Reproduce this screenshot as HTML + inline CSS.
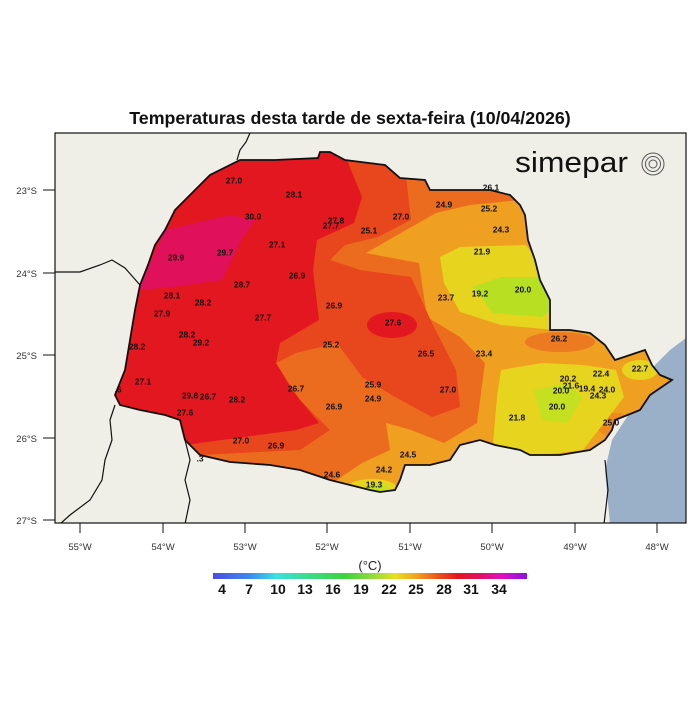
<!DOCTYPE html>
<html><head><meta charset="utf-8"><style>
body{margin:0;background:#fff;}
svg text{font-family:"Liberation Sans",sans-serif;}
</style></head><body>
<svg width="699" height="699" viewBox="0 0 699 699" xmlns="http://www.w3.org/2000/svg">
<defs>
<clipPath id="st"><path id="sp" d="M195,190 L210,175 L240,160 L275,160 L318,158 L320,152 L330,152 L345,160 L385,165 L400,178 L425,180 L430,190 L490,190 L510,195 L520,205 L525,215 L528,240 L535,260 L540,280 L550,300 L550,330 L570,330 L590,333 L605,345 L615,360 L630,355 L645,350 L652,365 L660,375 L672,380 L650,395 L640,410 L615,420 L612,430 L605,440 L590,450 L560,455 L530,455 L520,450 L495,445 L480,440 L460,445 L450,460 L430,465 L405,465 L400,480 L395,490 L380,492 L370,490 L350,485 L330,480 L300,470 L270,465 L230,462 L200,455 L185,440 L180,420 L165,415 L140,410 L120,405 L115,395 L125,370 L130,340 L135,310 L140,285 L148,265 L155,245 L165,230 L175,210 Z"/></clipPath>
<clipPath id="fr"><rect x="55" y="133" width="631" height="390"/></clipPath>
<linearGradient id="cb" x1="0" x2="1">
<stop offset="0" stop-color="#4b4de0"/><stop offset="0.12" stop-color="#3c8cf0"/><stop offset="0.2" stop-color="#3ce0e0"/><stop offset="0.3" stop-color="#3cdc8c"/><stop offset="0.42" stop-color="#3cd23c"/><stop offset="0.52" stop-color="#a0dc3c"/><stop offset="0.58" stop-color="#e6e01e"/><stop offset="0.65" stop-color="#f0a020"/><stop offset="0.72" stop-color="#e8501c"/><stop offset="0.78" stop-color="#e3151e"/><stop offset="0.85" stop-color="#e01060"/><stop offset="0.92" stop-color="#e010c0"/><stop offset="1" stop-color="#8c10e0"/>
</linearGradient>
</defs>
<text x="350" y="124" font-size="17.8" font-weight="bold" text-anchor="middle" fill="#111">Temperaturas desta tarde de sexta-feira (10/04/2026)</text>
<rect x="55" y="133" width="631" height="390" fill="#efefe7"/>
<g clip-path="url(#fr)">
<path d="M686,338 L670,350 L655,365 L650,378 L640,398 L625,420 L612,440 L605,470 L610,524 L686,524 Z" fill="#9ab0c8"/>
<g fill="none" stroke="#111" stroke-width="1.2">
<path d="M54,272 L80,272 L100,265 L112,260 L125,268 L140,285"/>
<path d="M237,160 L240,150 L246,142 L250,133"/>
<path d="M185,440 L190,460 L185,480 L190,500 L185,524"/>
<path d="M115,405 L110,420 L112,440 L105,460 L102,480 L90,500 L70,515 L60,524"/>
<path d="M605,460 L608,490 L604,524"/>
</g>
<g clip-path="url(#st)">
<rect x="100" y="140" width="600" height="380" fill="#efa020"/>
<path d="M100,150 L520,150 L520,200 L470,205 L436,213 L366,253 L419,263 L427,317 L460,337 L485,363 L477,423 L444,443 L411,430 L386,423 L390,450 L362,463 L337,480 L300,500 L100,500 Z" fill="#ec6c1f"/>
<ellipse cx="560" cy="342" rx="35" ry="10" fill="#ec7a20"/>
<ellipse cx="615" cy="425" rx="18" ry="12" fill="#ec8a20"/>
<path d="M100,150 L403,150 L411,220 L378,237 L345,245 L330,260 L360,270 L411,277 L432,323 L456,370 L460,407 L432,417 L395,397 L362,377 L337,343 L296,353 L276,363 L300,400 L330,430 L300,450 L100,460 Z" fill="#e8461c"/>
<path d="M100,150 L343,150 L362,197 L354,223 L317,240 L313,270 L319,320 L280,343 L276,363 L292,390 L319,423 L296,430 L185,445 L100,445 Z" fill="#e3171f"/>
<path d="M150,150 L250,150 L210,175 L180,195 L150,200 Z" fill="#e8461c"/>
<ellipse cx="392" cy="325" rx="25" ry="13" fill="#e3171f"/>
<path d="M138,290 L165,230 L230,215 L255,220 L243,237 L222,280 L173,287 Z" fill="#e0105a"/>
<path d="M440,257 L460,247 L526,245 L542,268 L559,303 L555,330 L501,325 L460,312 L444,283 Z" fill="#e6d41e"/>
<path d="M473,287 L501,277 L542,277 L559,303 L542,317 L493,313 Z" fill="#b8e022"/>
<path d="M501,370 L542,363 L583,365 L616,370 L624,397 L604,423 L583,450 L526,457 L493,443 L497,397 Z" fill="#e6d41e"/>
<path d="M534,390 L567,383 L583,397 L567,423 L542,420 Z" fill="#c4e020"/>
<ellipse cx="640" cy="370" rx="18" ry="10" fill="#e6d41e"/>
<ellipse cx="372" cy="487" rx="24" ry="8" fill="#e6d41e"/>
<ellipse cx="378" cy="488" rx="10" ry="5" fill="#c4e020"/>
</g>
<use href="#sp" fill="none" stroke="#111" stroke-width="1.8"/>
</g>
<rect x="55" y="133" width="631" height="390" fill="none" stroke="#111" stroke-width="1.2"/>
<g stroke="#111" stroke-width="1">
<line x1="43" y1="190" x2="55" y2="190"/><line x1="43" y1="273" x2="55" y2="273"/><line x1="43" y1="355" x2="55" y2="355"/><line x1="43" y1="438" x2="55" y2="438"/><line x1="43" y1="520" x2="55" y2="520"/>
<line x1="80" y1="523" x2="80" y2="533"/><line x1="163" y1="523" x2="163" y2="533"/><line x1="245" y1="523" x2="245" y2="533"/><line x1="327" y1="523" x2="327" y2="533"/><line x1="410" y1="523" x2="410" y2="533"/><line x1="492" y1="523" x2="492" y2="533"/><line x1="575" y1="523" x2="575" y2="533"/><line x1="657" y1="523" x2="657" y2="533"/>
</g>
<g font-size="9.5" fill="#333" text-anchor="end">
<text x="37" y="194">23°S</text><text x="37" y="277">24°S</text><text x="37" y="359">25°S</text><text x="37" y="442">26°S</text><text x="37" y="524">27°S</text>
</g>
<g font-size="9.5" fill="#333" text-anchor="middle">
<text x="80" y="550">55°W</text><text x="163" y="550">54°W</text><text x="245" y="550">53°W</text><text x="327" y="550">52°W</text><text x="410" y="550">51°W</text><text x="492" y="550">50°W</text><text x="575" y="550">49°W</text><text x="657" y="550">48°W</text>
</g>
<g font-size="8.5" font-weight="bold" fill="#111" text-anchor="middle" dominant-baseline="middle">
<text x="234" y="181">27.0</text><text x="294" y="195">28.1</text><text x="253" y="217">30.0</text><text x="336" y="221">27.8</text><text x="331" y="226">27.7</text><text x="401" y="217">27.0</text><text x="369" y="231">25.1</text><text x="444" y="205">24.9</text><text x="489" y="209">25.2</text><text x="491" y="188">26.1</text><text x="501" y="230">24.3</text><text x="482" y="252">21.9</text>
<text x="176" y="258">29.9</text><text x="225" y="253">29.7</text><text x="277" y="245">27.1</text><text x="297" y="276">26.9</text><text x="242" y="285">28.7</text><text x="172" y="296">28.1</text><text x="203" y="303">28.2</text><text x="480" y="294">19.2</text><text x="523" y="290">20.0</text><text x="446" y="298">23.7</text><text x="334" y="306">26.9</text><text x="162" y="314">27.9</text><text x="263" y="318">27.7</text><text x="393" y="323">27.6</text><text x="187" y="335">28.2</text><text x="201" y="343">29.2</text><text x="331" y="345">25.2</text><text x="137" y="347">28.2</text><text x="426" y="354">26.5</text><text x="484" y="354">23.4</text><text x="559" y="339">26.2</text><text x="601" y="374">22.4</text><text x="640" y="369">22.7</text>
<text x="143" y="382">27.1</text><text x="118" y="390">.6</text><text x="373" y="385">25.9</text><text x="296" y="389">26.7</text><text x="568" y="379">20.2</text><text x="571" y="386">21.6</text><text x="561" y="391">20.0</text><text x="587" y="389">19.4</text><text x="607" y="390">24.0</text><text x="598" y="396">24.3</text><text x="448" y="390">27.0</text><text x="190" y="396">29.8</text><text x="208" y="397">26.7</text><text x="237" y="400">28.2</text><text x="373" y="399">24.9</text><text x="185" y="413">27.6</text><text x="334" y="407">26.9</text><text x="557" y="407">20.0</text><text x="517" y="418">21.8</text><text x="611" y="423">25.0</text>
<text x="241" y="441">27.0</text><text x="276" y="446">26.9</text><text x="408" y="455">24.5</text><text x="384" y="470">24.2</text><text x="332" y="475">24.6</text><text x="374" y="485">19.3</text><text x="200" y="459">.3</text>
</g>
<text x="515" y="172" font-size="29" fill="#111" textLength="113" lengthAdjust="spacingAndGlyphs">simepar</text>
<g fill="none" stroke="#555" stroke-width="1">
<circle cx="653" cy="164" r="11"/><circle cx="653" cy="164" r="7.5"/><circle cx="653" cy="164" r="4"/>
</g>
<text x="370" y="570" font-size="13" fill="#222" text-anchor="middle">(°C)</text>
<rect x="213" y="573" width="314" height="6" fill="url(#cb)"/>
<g font-size="14" font-weight="bold" fill="#111" text-anchor="middle">
<text x="222" y="594">4</text><text x="249" y="594">7</text><text x="278" y="594">10</text><text x="305" y="594">13</text><text x="333" y="594">16</text><text x="361" y="594">19</text><text x="389" y="594">22</text><text x="416" y="594">25</text><text x="444" y="594">28</text><text x="471" y="594">31</text><text x="499" y="594">34</text>
</g>
</svg>
</body></html>
